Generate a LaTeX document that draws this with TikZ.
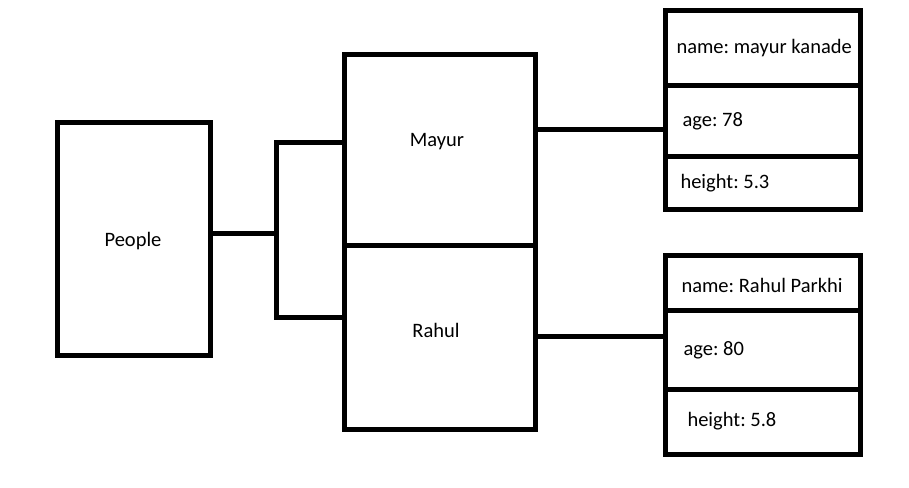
\documentclass[tikz,border=0pt]{standalone}
\usepackage{fontspec}
\setmainfont{Carlito}
\usepackage{tikz}
\usetikzlibrary{positioning}
\frenchspacing

\begin{document}
\begin{tikzpicture}[x=1pt, y=-1pt, line width=5pt,
        box/.style={rectangle, draw, inner sep=0pt},
        txt/.style={anchor=base west, inner sep=0pt, font=\fontsize{20.5}{24}\selectfont}]
        \useasboundingbox (0,0) rectangle (909,487);

        \node[box, minimum width=153, minimum height=233] (people) at (134, 239) {};
        \node[box, minimum width=191, minimum height=190] (mayur) at (439.5, 150) {};
        \node[box, minimum width=191, minimum height=184] (rahul) at (439.5, 337) {};

        \node[box, minimum width=195.5, minimum height=74.5] (m1) at (763, 47.75) {};
        \node[box, minimum width=195.5, minimum height=71.5] (m2) at (763, 120.75) {};
        \node[box, minimum width=195.5, minimum height=53] (m3) at (763, 183) {};
        \node[box, minimum width=195.5, minimum height=55] (r1) at (763, 283) {};
        \node[box, minimum width=195.5, minimum height=78.5] (r2) at (763, 349.75) {};
        \node[box, minimum width=195.5, minimum height=65.5] (r3) at (763, 421.75) {};

        \node[txt, anchor=base] (tp) at (133, 246.7) {People};
        \node[txt, anchor=base] (tm) at (437, 146) {Mayur};
        \node[txt, anchor=base] (tr) at (436, 337.7) {Rahul};
        \node[txt] (tm1) at (674, 53.3) {name: mayur kanade};
        \node[txt] (tm2) at (680, 126.7) {age: 78};
        \node[txt] (tm3) at (678, 188.3) {height: 5.3};
        \node[txt] (tr1) at (679, 292.7) {name: Rahul Parkhi};
        \node[txt] (tr2) at (681, 355) {age: 80};
        \node[txt] (tr3) at (685, 426) {height: 5.8};

        \coordinate (fork) at (276, 233);
        \draw (people.east |- fork) -- (fork);
        \draw (mayur.west |- 0,142) -| (276, 317) -- (rahul.west |- 0,317);
        \draw (mayur.east |- 0,129) -- (m2.west |- 0,129);
        \draw (rahul.east |- 0,336) -- (r2.west |- 0,336);
    \end{tikzpicture}
\end{document}
